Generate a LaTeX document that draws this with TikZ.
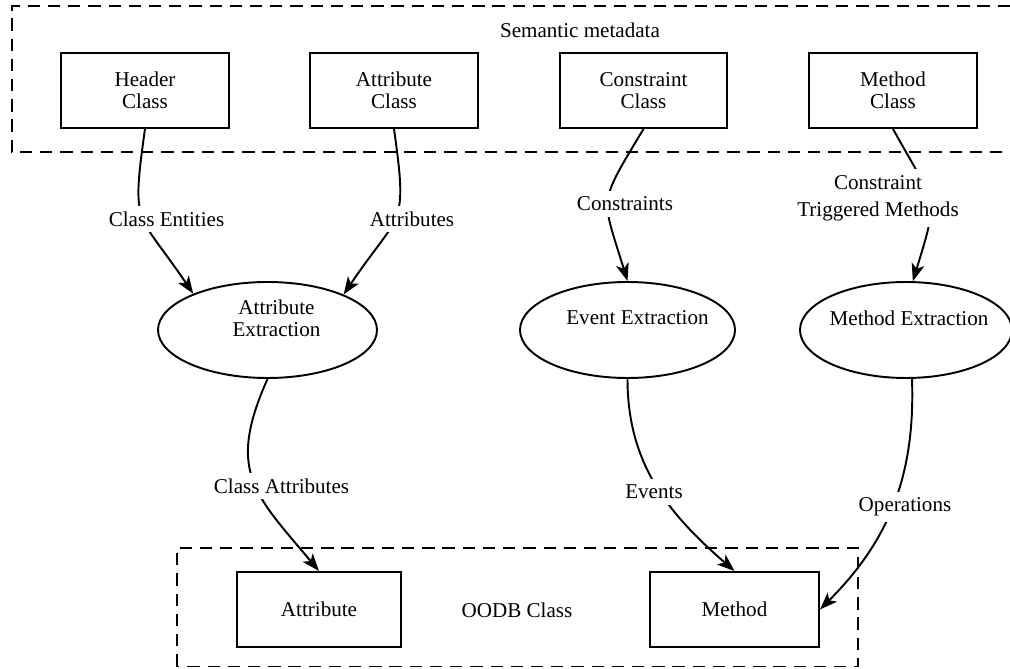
\documentclass[tikz,border=0pt]{standalone}
\usepackage{fontspec}
\setmainfont{Liberation Serif}
\usetikzlibrary{shapes.geometric, arrows.meta}

\tikzset{
  classbox/.style={draw, line width=1.1pt, minimum width=3.35cm, minimum height=1.5cm, align=center, inner sep=0pt},
  extract/.style={draw, ellipse, line width=1.1pt, minimum width=4.3cm, minimum height=1.92cm, inner sep=0pt},
  flow/.style={line width=1.1pt, -{Stealth[length=0.35cm, width=0.26cm, inset=0.09cm]}},
  flowlabel/.style={fill=white, inner sep=0.12cm, align=center},
  region/.style={line width=1.1pt, dash pattern=on 7pt off 4.5pt},
}

\begin{document}
\begin{tikzpicture}[font=\fontsize{12pt}{12.5pt}\selectfont]
  \useasboundingbox (0,0) rectangle (20.2,13.36);

  % Dashed regions
  \draw[region] (20.2,13.24) -- (0.24,13.24) -- (0.24,10.32) -- (20.2,10.32);
  \draw[region] (3.54,0.03) rectangle (17.16,2.4);
  \node (sm) at (11.6,12.76) {Semantic metadata};
  \node (oc) at (10.34,1.16) {OODB Class};

  % Semantic metadata classes
  \node[classbox] (hc) at (2.9,11.55) {Header\\Class};
  \node[classbox] (ac) at (7.88,11.55) {Attribute\\Class};
  \node[classbox] (cc) at (12.87,11.55) {Constraint\\Class};
  \node[classbox] (mc) at (17.86,11.55) {Method\\Class};

  % Extraction steps
  \node[extract, minimum width=4.38cm] (ae) at (5.35,6.76) {};
  \node[extract] (ee) at (12.55,6.76) {};
  \node[extract, minimum width=4.24cm] (me) at (18.12,6.76) {};
  \node[align=center] (aet) at (5.53,7.0) {Attribute\\Extraction};
  \node (eet) at (12.75,7.0) {Event Extraction};
  \node (met) at (18.18,7.0) {Method Extraction};

  % OODB class parts
  \node[classbox, minimum width=3.28cm] (ab) at (6.38,1.17) {Attribute};
  \node[classbox, minimum width=3.38cm] (mb) at (14.69,1.17) {Method};

  % Flows
  \draw[flow] (hc.south) to[out=-98, in=124, looseness=1.5] (ae.154);
  \draw[flow] (ac.south) to[out=-82, in=56, looseness=1.5] (ae.25);
  \draw[flow] (cc.south) to[out=-121, in=107, looseness=1.5] (ee.north);
  \draw[flow] (mc.south) to[out=-61, in=73, looseness=1.5] (me.82);
  \draw[flow] (ae.south) to[out=-114, in=130, looseness=1.3] (ab.north);
  \draw[flow] (ee.south) to[out=-90, in=139] (mb.north);
  \draw[flow] (me.-83) to[out=-88, in=45] (mb.east);

  % Flow labels
  \node[flowlabel] (lce) at (3.33,8.98) {Class Entities};
  \node[flowlabel] (lat) at (8.24,8.98) {Attributes};
  \node[flowlabel] (lco) at (12.5,9.28) {Constraints};
  \node[flowlabel] (ltm) at (17.56,9.40) {Constraint\\[0.1cm]Triggered Methods};
  \node[flowlabel] (lca) at (5.63,3.64) {Class Attributes};
  \node[flowlabel] (lev) at (13.08,3.52) {Events};
  \node[flowlabel] (lop) at (18.1,3.22) {Operations};
\end{tikzpicture}
\end{document}
